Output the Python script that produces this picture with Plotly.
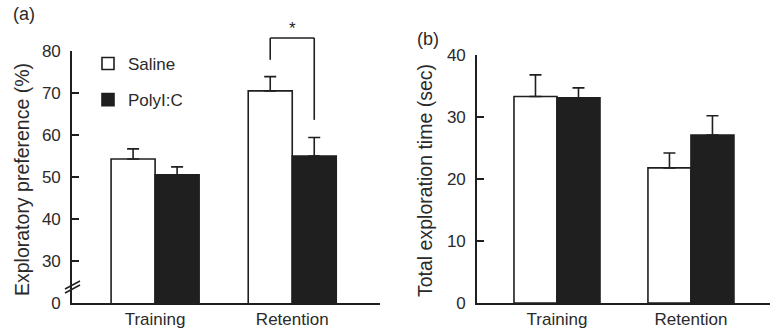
import plotly.graph_objects as go

# ---------------- data ----------------
categories = ["Training", "Retention"]
pref_saline = [54.3, 70.5]
pref_saline_err = [2.4, 3.4]
pref_poly = [50.5, 55.0]
pref_poly_err = [1.9, 4.4]
time_saline = [33.3, 21.8]
time_saline_err = [3.5, 2.4]
time_poly = [33.1, 27.1]
time_poly_err = [1.6, 3.1]
pref_tickvals = [20, 30, 40, 50, 60, 70, 80]
pref_ticktext = ["0", "30", "40", "50", "60", "70", "80"]
time_tickvals = [0, 10, 20, 30, 40]

W, H = 772, 328
FONT = "Liberation Sans, Arial, sans-serif"
DARK = "#1f1f1f"
TXT = "#2a2a2a"

# plot areas (pixels)
L_X0, L_X1, L_Y0, L_Y1 = 72, 380, 51, 303
R_X0, R_X1, R_Y0, R_Y1 = 477, 770, 55, 303
L_RANGE = [20, 80]
R_RANGE = [0, 40]


def px_x(p):
    return p / W


def px_y(p):
    return 1 - p / H


def ly_paper(v):
    d0, d1 = px_y(L_Y1), px_y(L_Y0)
    return d0 + (v - L_RANGE[0]) / (L_RANGE[1] - L_RANGE[0]) * (d1 - d0)


fig = go.Figure()


def add_bars(vals, errs, name, fill, xa, ya, show):
    fig.add_trace(go.Bar(
        x=categories, y=vals, name=name, xaxis=xa, yaxis=ya,
        marker=dict(color=fill, line=dict(color=DARK, width=1.6)),
        error_y=dict(type="data", symmetric=False, array=errs,
                     arrayminus=[0] * len(errs), color=DARK,
                     thickness=1.6, width=6),
        showlegend=show, legendgroup=name,
    ))


add_bars(pref_saline, pref_saline_err, "Saline", "white", "x", "y", True)
add_bars(pref_poly, pref_poly_err, "PolyI:C", DARK, "x", "y", True)
add_bars(time_saline, time_saline_err, "Saline", "white", "x2", "y2", False)
add_bars(time_poly, time_poly_err, "PolyI:C", DARK, "x2", "y2", False)

axis_common = dict(showline=True, linecolor=DARK, linewidth=1.6,
                   showgrid=False, zeroline=False, automargin=False,
                   tickfont=dict(family=FONT, size=17, color=TXT))

fig.update_layout(
    width=W, height=H, margin=dict(l=0, r=0, t=0, b=0, autoexpand=False),
    paper_bgcolor="white", plot_bgcolor="white",
    barmode="group", bargap=0.358, bargroupgap=0,
    font=dict(family=FONT, color=TXT),
    xaxis=dict(domain=[px_x(L_X0), px_x(L_X1)], anchor="y",
               range=[-0.606, 1.64], ticks="", ticklabelstandoff=0,
               **axis_common),
    yaxis=dict(domain=[px_y(L_Y1), px_y(L_Y0)], anchor="x",
               range=L_RANGE, tickvals=pref_tickvals, ticktext=pref_ticktext,
               ticks="inside", ticklen=7, tickwidth=1.6, tickcolor=DARK,
               ticklabelstandoff=6, **axis_common),
    xaxis2=dict(domain=[px_x(R_X0), px_x(R_X1)], anchor="y2",
                range=[-0.597, 1.59], ticks="", ticklabelstandoff=0,
                **axis_common),
    yaxis2=dict(domain=[px_y(R_Y1), px_y(R_Y0)], anchor="x2",
                range=R_RANGE, tickvals=time_tickvals,
                ticks="inside", ticklen=7, tickwidth=1.6, tickcolor=DARK,
                ticklabelstandoff=6, **axis_common),
    legend=dict(x=px_x(88), y=px_y(46), xanchor="left", yanchor="top",
                bgcolor="rgba(0,0,0,0)", traceorder="grouped",
                tracegroupgap=11, font=dict(family=FONT, size=17, color=TXT)),
)

# axis titles and panel labels
ann = [
    dict(text="Exploratory preference (%)", x=px_x(22), y=px_y(180),
         textangle=-90, font=dict(size=19.5)),
    dict(text="Total exploration time (sec)", x=px_x(425), y=px_y(180),
         textangle=-90, font=dict(size=19.5)),
    dict(text="(a)", x=px_x(24), y=px_y(14), font=dict(size=18)),
    dict(text="(b)", x=px_x(428), y=px_y(39), font=dict(size=18)),
]
for a in ann:
    fig.add_annotation(xref="paper", yref="paper", showarrow=False,
                       xanchor="center", yanchor="middle", **a)

# significance bracket over Retention group
half = (1 - 0.358) / 4  # centre offset of each bar within its group
br_top, br_left, br_right = 83.1, 77.9, 63.6
for x0, y0, x1, y1 in [
    (1 - half, br_left, 1 - half, br_top),
    (1 - half, br_top, 1 + half, br_top),
    (1 + half, br_top, 1 + half, br_right),
]:
    fig.add_shape(type="line", xref="x", yref="paper",
                  x0=x0, x1=x1, y0=ly_paper(y0), y1=ly_paper(y1),
                  line=dict(color=DARK, width=1.6))
fig.add_annotation(xref="x", yref="paper", x=1, y=ly_paper(88.0),
                   text="*", showarrow=False, font=dict(size=17, color=DARK))

# axis break marks on left y axis
for dy in (0, 4):
    fig.add_shape(type="line", xref="paper", yref="paper",
                  x0=px_x(65), x1=px_x(80),
                  y0=px_y(289 + dy), y1=px_y(281 + dy),
                  line=dict(color=DARK, width=1.5))

fig.write_html("out.html")
